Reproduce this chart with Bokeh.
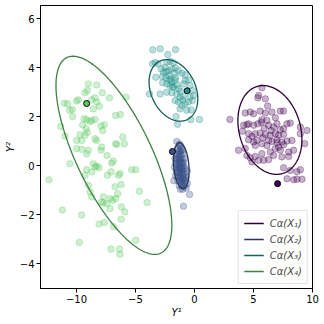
import numpy as np
from bokeh.plotting import figure
from bokeh.models import FixedTicker
from bokeh.embed import file_html
from bokeh.resources import INLINE

# ---------------- data ----------------
colors = ["#440154", "#3b528b", "#21918c", "#5ec962"]
edge_colors = ["#2c0137", "#26355a", "#155e5b", "#3d833f"]
labels = ["Cα(X₁)", "Cα(X₂)", "Cα(X₃)", "Cα(X₄)"]

x_ticks = [-10, -5, 0, 5, 10]
x_tick_labels = ["−10", "−5", "0", "5", "10"]
y_ticks = [-4, -2, 0, 2, 4, 6]
y_tick_labels = ["−4", "−2", "0", "2", "4", "6"]

c1_x = [5.71, 5.43, 5.37, 6.0, 3.0, 4.30, 4.72, 5.01, 5.57, 6.0, 6.56, 7.27, 7.55, 5.71, 6.14, 6.85,
        6.99, 7.84, 8.12, 4.16, 4.44, 5.01, 5.37, 5.66, 6.28, 6.70, 7.27, 7.55, 4.58, 4.87, 5.15, 5.57,
        6.0, 6.42, 6.85, 7.13, 7.55, 8.97, 9.53, 4.58, 5.01, 6.28, 6.56, 6.99, 7.41, 7.84, 8.26, 3.73,
        4.30, 5.15, 5.71, 6.14, 6.85, 7.13, 7.55, 4.44, 4.72, 5.15, 5.71, 6.42, 6.70, 7.27, 7.98, 8.40,
        4.87, 5.43, 5.86, 6.28, 7.41, 7.98, 7.55, 8.12, 8.68, 8.97, 7.84, 8.40, 8.68, 9.11, 4.58, 4.07,
        9.34, 8.97, 5.9, 6.5, 7.0, 5.3, 6.2, 5.8]
c1_y = [3.19, 2.88, 2.78, 2.74, 1.90, 2.16, 2.20, 2.13, 2.24, 2.16, 2.20, 2.24, 2.24, 1.89, 1.86, 1.97,
        1.72, 1.72, 1.75, 1.66, 1.68, 1.66, 1.72, 1.79, 1.66, 1.59, 1.48, 1.52, 1.32, 1.21, 1.32, 1.34,
        1.29, 1.25, 1.32, 1.25, 1.29, 1.32, 1.45, 1.07, 0.98, 1.04, 1.00, 1.07, 0.98, 1.02, 1.04, 0.64,
        0.71, 0.84, 0.91, 0.84, 0.71, 0.77, 0.87, 0.43, 0.34, 0.39, 0.50, 0.57, 0.43, 0.64, 0.57, 0.64,
        0.16, 0.23, 0.23, 0.26, 0.37, 0.39, -0.07, -0.18, -0.24, -0.15, -0.52, -0.56, -0.54, -0.54, 1.72, 1.42,
        0.91, 1.59, 1.55, 1.45, 0.95, 1.05, 2.45, 1.15]

c2_x = [-1.5, -1.3, -1.2, -1.45, -1.1, -1.35, -1.25, -1.55, -1.0, -1.15, -1.4, -1.3, -1.2, -1.05, -1.5, -1.35,
        -1.25, -1.1, -0.95, -1.6, -1.45, -1.3, -1.2, -1.05, -0.9, -1.7, -1.5, -1.35, -1.2, -1.1, -0.95, -0.8,
        -1.55, -1.4, -1.25, -1.1, -1.0, -0.85, -1.45, -1.3, -1.15, -1.0, -0.85, -0.7, -1.4, -1.2, -1.05, -0.9,
        -0.75, -1.3, -1.1, -0.95, -0.8, -1.2, -1.0, -0.7, -0.42, -0.93, -1.75, -1.65, -0.6, -1.3, -1.15, -1.0,
        -1.4, -1.2, -1.05, -0.9, -1.3, -1.15, -1.25, -0.95, -1.1, -1.45, -1.35, -0.85, -0.6, -1.6, -1.0, -1.25]
c2_y = [1.0, 0.85, 0.8, 0.7, 0.72, 0.6, 0.55, 0.5, 0.5, 0.45, 0.4, 0.35, 0.3, 0.3, 0.25, 0.2,
        0.15, 0.12, 0.15, 0.1, 0.05, 0.02, 0.0, -0.02, 0.0, -0.05, -0.1, -0.12, -0.15, -0.1, -0.15, -0.1,
        -0.25, -0.28, -0.3, -0.3, -0.35, -0.3, -0.45, -0.45, -0.5, -0.5, -0.5, -0.45, -0.6, -0.65, -0.65, -0.7,
        -0.6, -0.8, -0.8, -0.85, -0.8, -0.95, -0.95, -0.9, -1.16, -1.64, -0.6, 0.3, -0.2, 0.5, 0.6, 0.1,
        -0.2, -0.4, -0.2, -0.4, -0.05, 0.2, -0.55, -0.55, -0.7, 0.3, 0.1, 0.3, -0.7, -0.4, 0.65, 0.9]

c3_x = [-3.54, -2.91, -1.61, -2.26, -3.56, -3.34, -3.06, -2.35, -2.07, -1.78, -2.83, -2.49, -2.21, -1.92, -1.64,
        -1.36, -1.07, -0.79, -3.28, -2.72, -2.43, -2.15, -1.92, -1.64, -2.35, -2.07, -1.78, -1.50, -1.36, -0.93,
        -0.79, -0.51, -0.37, -0.17, -3.82, -2.91, -2.35, -1.92, -1.50, -1.22, -0.93, -0.37, -0.08, -1.64, -1.36,
        -1.07, -0.79, -0.51, -0.17, -1.22, -0.65, -0.28, -1.56, -0.31, 0.42, -1.44, -1.87, -2.63, -2.15, -1.70,
        -2.0, -1.6, -2.4, -1.2, -2.7, -1.0]
c3_y = [4.74, 4.78, 4.75, 4.55, 4.17, 4.22, 4.17, 4.23, 4.27, 4.21, 3.96, 4.03, 3.89, 3.96, 4.00,
        3.89, 3.79, 3.72, 3.62, 3.65, 3.60, 3.51, 3.42, 3.49, 3.35, 3.28, 3.22, 3.32, 3.15, 3.35,
        3.49, 3.51, 3.28, 3.08, 2.94, 2.94, 3.01, 2.99, 2.94, 2.81, 2.84, 2.81, 2.88, 2.67, 2.61,
        2.47, 2.54, 2.61, 2.67, 2.33, 2.27, 2.29, 2.02, 1.89, 1.90, 1.70, 3.22, 3.83, 3.69, 3.79,
        3.55, 3.6, 3.85, 3.05, 3.4, 2.7]

c4_x = [-9.0, -8.29, -9.28, -9.08, -7.81, -8.43, -8.71, -8.29, -9.99, -9.84, -11.03, -10.75, -10.35, -10.58,
        -10.33, -11.34, -8.57, -8.06, -7.21, -5.80, -6.68, -6.28, -9.36, -9.14, -8.85, -8.71, -8.43, -9.48,
        -9.19, -9.08, -7.92, -7.64, -7.78, -10.98, -9.99, -9.56, -9.70, -9.28, -8.43, -8.29, -7.86, -7.92,
        -9.56, -9.99, -9.0, -9.14, -6.68, -6.08, -5.94, -6.59, -7.41, -7.02, -6.87, -10.55, -8.57, -8.29,
        -8.09, -8.43, -9.14, -8.71, -9.28, -5.32, -4.98, -6.31, -6.45, -7.38, -7.07, -9.0, -8.85, -8.71,
        -7.72, -7.16, -6.73, -6.22, -6.51, -6.68, -6.93, -7.44, -7.72, -7.86, -7.16, -4.67, -4.02, -6.19,
        -5.91, -12.33, -11.2, -9.56, -8.09, -7.64, -6.87, -6.22, -4.98, -9.76, -7.07, -6.36, -6.31]
c4_y = [3.35, 3.31, 2.99, 3.08, 2.99, 2.78, 2.70, 2.61, 2.65, 2.70, 2.56, 2.54, 2.31, 2.27,
        2.02, 1.61, 2.33, 2.44, 2.78, 2.81, 2.06, 2.10, 1.93, 1.89, 1.82, 1.86, 1.90, 1.68,
        1.52, 1.38, 1.63, 1.68, 1.45, 1.22, 1.04, 1.04, 1.28, 1.25, 1.11, 1.04, 0.77, 0.64,
        0.68, 0.71, 0.64, 0.50, 0.91, 1.18, 0.91, 0.88, 0.43, 0.12, 0.20, 0.09, 0.09, 0.0,
        -0.07, -0.04, -0.15, -0.24, -0.38, -0.15, -0.15, -0.31, -0.38, -0.38, -0.24, -0.79, -1.06, -1.26,
        -1.26, -1.33, -0.85, -0.76, -1.13, -1.33, -1.40, -1.53, -1.51, -1.47, -1.74, -1.03, -1.49, -1.67,
        -1.87, -0.56, -1.80, -2.00, -2.37, -2.31, -2.48, -2.17, -3.03, -3.12, -3.39, -3.39, -3.60]

points_x = [c1_x, c2_x, c3_x, c4_x]
points_y = [c1_y, c2_y, c3_y, c4_y]

# highlighted points
mark_x = [7.04, -1.87, -0.62, -9.14]
mark_y = [-0.72, 0.59, 3.07, 2.55]

# confidence regions: centre and shape matrix [[sxx, sxy], [sxy, syy]]
ell_cx = [6.39, -1.12, -1.785, -6.83]
ell_cy = [1.47, 0.015, 3.085, 0.435]
ell_sxx = [7.35, 0.436, 4.26, 24.1]
ell_syy = [3.28, 0.874, 1.575, 16.36]
ell_sxy = [-1.03, -0.135, -0.71, -14.0]

# ---------------- figure ----------------
p = figure(width=324, height=324, x_range=(-13.05, 10), y_range=(-5.0, 6.55),
           output_backend="svg", toolbar_location=None,
           min_border_left=40, min_border_right=12, min_border_top=5, min_border_bottom=36)

t = np.linspace(0, 2 * np.pi, 240)
for i in range(4):
    p.scatter(points_x[i], points_y[i], size=6.5, color=colors[i], alpha=0.3)
    S = np.array([[ell_sxx[i], ell_sxy[i]], [ell_sxy[i], ell_syy[i]]])
    L = np.linalg.cholesky(S)
    pts = L @ np.vstack([np.cos(t), np.sin(t)])
    p.line(ell_cx[i] + pts[0], ell_cy[i] + pts[1], line_color=edge_colors[i],
           line_width=1.3, legend_label=labels[i])

for i in range(4):
    p.scatter([mark_x[i]], [mark_y[i]], size=6, fill_color=colors[i], line_color="black", line_width=1)

p.xgrid.visible = False
p.ygrid.visible = False
p.outline_line_color = "black"
p.outline_line_width = 1

p.xaxis.ticker = FixedTicker(ticks=x_ticks)
p.yaxis.ticker = FixedTicker(ticks=y_ticks)
p.xaxis.major_label_overrides = {t_: l_ for t_, l_ in zip(x_ticks, x_tick_labels)}
p.yaxis.major_label_overrides = {t_: l_ for t_, l_ in zip(y_ticks, y_tick_labels)}

p.xaxis.axis_label = "Y¹"
p.yaxis.axis_label = "Y²"
for ax in (p.xaxis, p.yaxis):
    ax.minor_tick_line_color = None
    ax.major_tick_in = 0
    ax.major_tick_out = 4
    ax.major_tick_line_color = "black"
    ax.axis_line_color = "black"
    ax.major_label_text_font = "DejaVu Sans"
    ax.major_label_text_font_size = "10px"
    ax.major_label_text_color = "black"
    ax.axis_label_text_font = "DejaVu Sans"
    ax.axis_label_text_font_size = "10px"
    ax.axis_label_text_font_style = "italic"
    ax.axis_label_text_color = "black"
    ax.axis_label_standoff = 1
    ax.major_label_standoff = 2

p.legend.location = "bottom_right"
p.legend.margin = 4
p.legend.padding = 5
p.legend.spacing = 2
p.legend.glyph_width = 20
p.legend.glyph_height = 14
p.legend.label_height = 14
p.legend.label_standoff = 6
p.legend.label_text_font = "DejaVu Sans"
p.legend.label_text_font_size = "10px"
p.legend.label_text_font_style = "italic"
p.legend.border_line_color = "#cccccc"
p.legend.background_fill_alpha = 0.8

open("out.html", "w").write(file_html(p, INLINE))
